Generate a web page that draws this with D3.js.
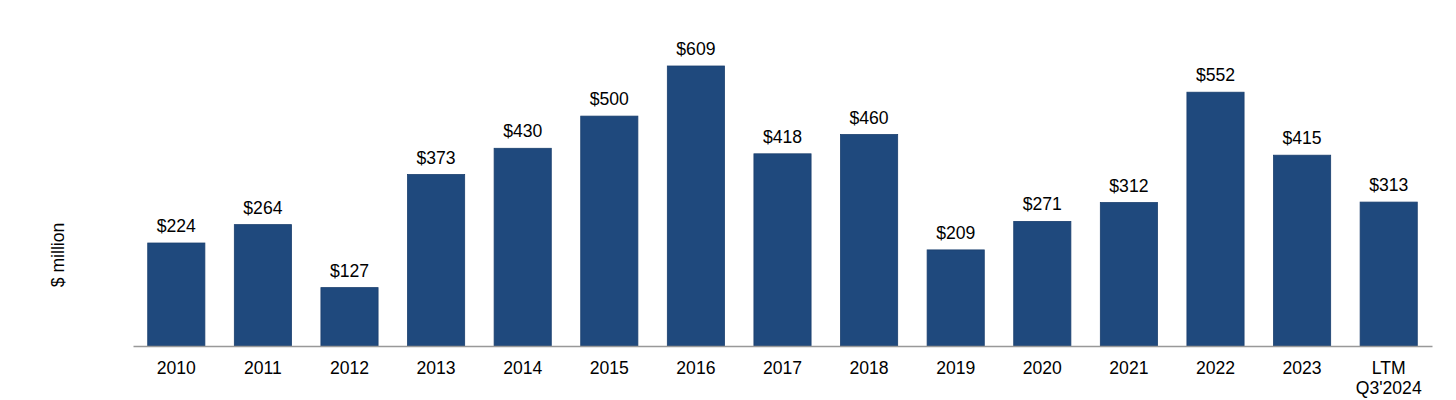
<!DOCTYPE html>
<html><head><meta charset="utf-8">
<script src="https://cdn.jsdelivr.net/npm/d3@7"></script>
<style>body{margin:0;background:#fff}</style>
</head><body><svg id="c" width="1456" height="400"></svg>
<script>
const categories = ["2010","2011","2012","2013","2014","2015","2016","2017","2018","2019","2020","2021","2022","2023","LTM\nQ3'2024"];
const values = [224,264,127,373,430,500,609,418,460,209,271,312,552,415,313];
const yTitle = "$ million";

const svg = d3.select("#c");
const font = "'Liberation Sans', Arial, sans-serif";
const fs = 17.6;
const x = d3.scaleBand().domain(categories).range([133,1432]).paddingInner(0.34).paddingOuter(0.17);
const y = d3.scaleLinear().domain([0,609]).range([346,66]);

svg.selectAll("rect.bar").data(values).join("rect")
  .attr("class","bar")
  .attr("x",(d,i)=>x(categories[i]))
  .attr("width",x.bandwidth())
  .attr("y",d=>y(d))
  .attr("height",d=>y(0)-y(d))
  .attr("fill","#1F497D")
  .attr("stroke","#1A3F6E").attr("stroke-width",0.8);

svg.selectAll("text.val").data(values).join("text")
  .attr("class","val")
  .attr("x",(d,i)=>x(categories[i])+x.bandwidth()/2)
  .attr("y",d=>y(d)-11)
  .attr("text-anchor","middle")
  .attr("font-family",font).attr("font-size",fs).attr("fill","#000")
  .text(d=>"$"+d);

const axis = svg.append("g").attr("transform","translate(0,346)")
  .call(d3.axisBottom(x).tickSize(0).tickSizeOuter(0).tickFormat(""));
axis.select(".domain").attr("stroke","#999").attr("stroke-width",1.5);

categories.forEach(c=>{
  const lines = c.split("\n");
  const t = svg.append("text")
    .attr("x",x(c)+x.bandwidth()/2).attr("y",374)
    .attr("text-anchor","middle")
    .attr("font-family",font).attr("font-size",fs).attr("fill","#000");
  lines.forEach((l,j)=>t.append("tspan").attr("x",x(c)+x.bandwidth()/2).attr("dy",j?20:0).text(l));
});

svg.append("text")
  .attr("transform","translate(64,255) rotate(-90)")
  .attr("text-anchor","middle")
  .attr("font-family",font).attr("font-size",fs).attr("fill","#000")
  .text(yTitle);
</script></body></html>
